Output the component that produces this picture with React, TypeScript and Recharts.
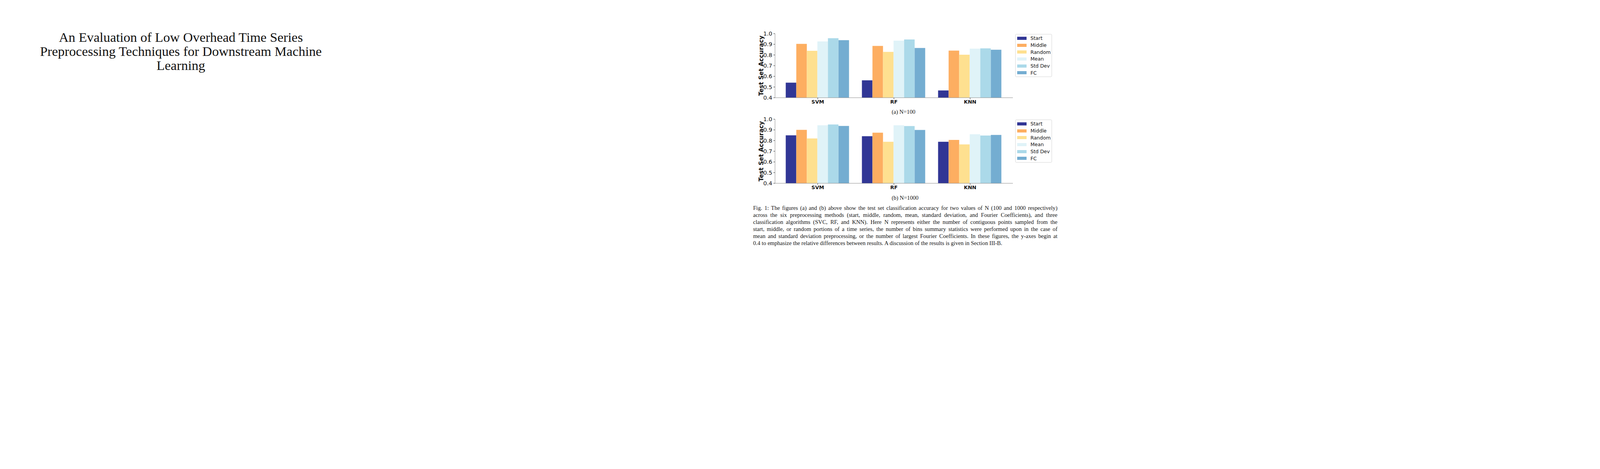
import React from 'react';
import { BarChart, Bar, XAxis, YAxis, Legend } from 'recharts';

// classifiers on the x axis
const categories = ['SVM', 'RF', 'KNN'];

// preprocessing methods (legend order)
const methods = ['Start', 'Middle', 'Random', 'Mean', 'Std Dev', 'FC'];
const methodColors = ['#313695', '#fdae61', '#fee090', '#e0f3f8', '#abd9e9', '#74add1'];

// (a) N=100
const start100 = [0.541, 0.563, 0.468];
const middle100 = [0.904, 0.885, 0.841];
const random100 = [0.839, 0.829, 0.802];
const mean100 = [0.927, 0.934, 0.859];
const std100 = [0.957, 0.945, 0.862];
const fc100 = [0.939, 0.866, 0.849];

// (b) N=1000
const start1000 = [0.849, 0.841, 0.789];
const middle1000 = [0.900, 0.874, 0.806];
const random1000 = [0.820, 0.789, 0.764];
const mean1000 = [0.943, 0.943, 0.859];
const std1000 = [0.951, 0.936, 0.847];
const fc1000 = [0.937, 0.899, 0.853];

const yTicks = [0.4, 0.5, 0.6, 0.7, 0.8, 0.9, 1.0];

const titleLines = [
  'An Evaluation of Low Overhead Time Series',
  'Preprocessing Techniques for Downstream Machine',
  'Learning',
];

const captionLines = [
  'Fig. 1: The figures (a) and (b) above show the test set classification accuracy for two values of N (100 and 1000 respectively)',
  'across the six preprocessing methods (start, middle, random, mean, standard deviation, and Fourier Coefficients), and three',
  'classification algorithms (SVC, RF, and KNN). Here N represents either the number of contiguous points sampled from the',
  'start, middle, or random portions of a time series, the number of bins summary statistics were performed upon in the case of',
  'mean and standard deviation preprocessing, or the number of largest Fourier Coefficients. In these figures, the y-axes begin at',
  '0.4 to emphasize the relative differences between results. A discussion of the results is given in Section III-B.',
];

const buildRows = (series: number[][]) =>
  categories.map((cat, i) => {
    const row: any = { cat };
    methods.forEach((m, j) => {
      row[m] = series[j][i];
    });
    return row;
  });

const data100 = buildRows([start100, middle100, random100, mean100, std100, fc100]);
const data1000 = buildRows([start1000, middle1000, random1000, mean1000, std1000, fc1000]);

const SANS = 'DejaVu Sans, sans-serif';
const SERIF = '"Liberation Serif", "Times New Roman", serif';
const SPINE = '#8a8a8a';

const LegendBox = (props: any) => {
  // keep the plotting order instead of recharts' alphabetical sort
  const payload = [...(props.payload || [])].sort(
    (a: any, b: any) => methods.indexOf(a.value) - methods.indexOf(b.value)
  );
  return (
    <div
      style={{
        boxSizing: 'border-box',
        width: 94,
        height: 110,
        border: '1px solid #d6d6d6',
        borderRadius: 3,
        background: '#fff',
        paddingTop: 1,
      }}
    >
      {payload.map((p: any) => (
        <div key={p.value} style={{ display: 'flex', alignItems: 'center', height: 17.7 }}>
          <span style={{ display: 'inline-block', width: 24, height: 8, marginLeft: 4, background: p.color }} />
          <span style={{ marginLeft: 10, fontFamily: SANS, fontSize: 12.5, color: '#111', whiteSpace: 'nowrap' }}>
            {p.value}
          </span>
        </div>
      ))}
    </div>
  );
};

const AccuracyChart = ({ data }: { data: any[] }) => (
  <div style={{ position: 'relative', width: 810, height: 210 }}>
    <div
      style={{
        position: 'absolute',
        left: 49 - 100,
        top: 98 - 10,
        width: 200,
        height: 20,
        lineHeight: '20px',
        textAlign: 'center',
        transform: 'rotate(-90deg)',
        fontFamily: SANS,
        fontWeight: 'bold',
        fontSize: 15.5,
        color: '#111',
        whiteSpace: 'nowrap',
      }}
    >
      Test Set Accuracy
    </div>
    <BarChart
      width={810}
      height={210}
      data={data}
      margin={{ top: 16, right: 117, bottom: 0, left: 40 }}
      barCategoryGap={15.5}
      barGap={0}
    >
      <XAxis
        dataKey="cat"
        padding={{ left: 12, right: 12 }}
        height={30}
        tickSize={4}
        tickMargin={2}
        axisLine={{ stroke: SPINE }}
        tickLine={{ stroke: '#333' }}
        tick={{ fontSize: 13, fontWeight: 'bold', fill: '#111', fontFamily: SANS }}
      />
      <XAxis xAxisId="top" dataKey="cat" orientation="top" height={0} tick={false} tickLine={false} axisLine={{ stroke: SPINE }} />
      <YAxis
        domain={[0.4, 1.0]}
        ticks={yTicks}
        allowDataOverflow
        width={44}
        tickSize={4}
        tickMargin={3}
        interval={0}
        tickFormatter={(v: number) => v.toFixed(1)}
        axisLine={{ stroke: SPINE }}
        tickLine={{ stroke: '#333' }}
        tick={{ fontSize: 14.5, fill: '#111', fontFamily: SANS }}
      />
      <YAxis yAxisId="right" orientation="right" domain={[0.4, 1.0]} width={0} tick={false} tickLine={false} axisLine={{ stroke: SPINE }} />
      <Legend
        layout="vertical"
        align="center"
        verticalAlign="middle"
        wrapperStyle={{ left: 699, top: 17, width: 94 }}
        content={LegendBox}
      />
      {methods.map((m, i) => (
        <Bar key={m} dataKey={m} name={m} fill={methodColors[i]} isAnimationActive={false} />
      ))}
    </BarChart>
  </div>
);

const abs = (left: number, top: number): React.CSSProperties => ({ position: 'absolute', left, top });

export default function App() {
  return (
    <div style={{ position: 'absolute', left: 0, top: 0, width: 4635, height: 1200, background: '#fff', overflow: 'hidden' }}>
      {/* paper title */}
      <div style={{ ...abs(63, 77.4), width: 800, fontFamily: SERIF, fontSize: 34.5, lineHeight: '36px', textAlign: 'center', color: '#111' }}>
        {titleLines.map((t) => (
          <div key={t}>{t}</div>
        ))}
      </div>

      {/* (a) N=100 */}
      <div style={abs(1900, 70)}>
        <AccuracyChart data={data100} />
      </div>
      <div style={{ ...abs(2213, 276.8), width: 200, textAlign: 'center', fontFamily: SERIF, fontSize: 14.6, lineHeight: '18px', color: '#111' }}>
        (a) N=100
      </div>

      {/* (b) N=1000 */}
      <div style={abs(1900, 289)}>
        <AccuracyChart data={data1000} />
      </div>
      <div style={{ ...abs(2217, 496.8), width: 200, textAlign: 'center', fontFamily: SERIF, fontSize: 14.6, lineHeight: '18px', color: '#111' }}>
        (b) N=1000
      </div>

      {/* figure caption */}
      <div style={{ ...abs(1928, 523), width: 779, fontFamily: SERIF, fontSize: 14.6, lineHeight: '18px', color: '#111' }}>
        {captionLines.map((t, i) => (
          <div
            key={i}
            style={{
              textAlign: 'justify',
              textAlignLast: i < captionLines.length - 1 ? 'justify' : 'left',
              whiteSpace: 'nowrap',
            }}
          >
            {t}
          </div>
        ))}
      </div>
    </div>
  );
}
